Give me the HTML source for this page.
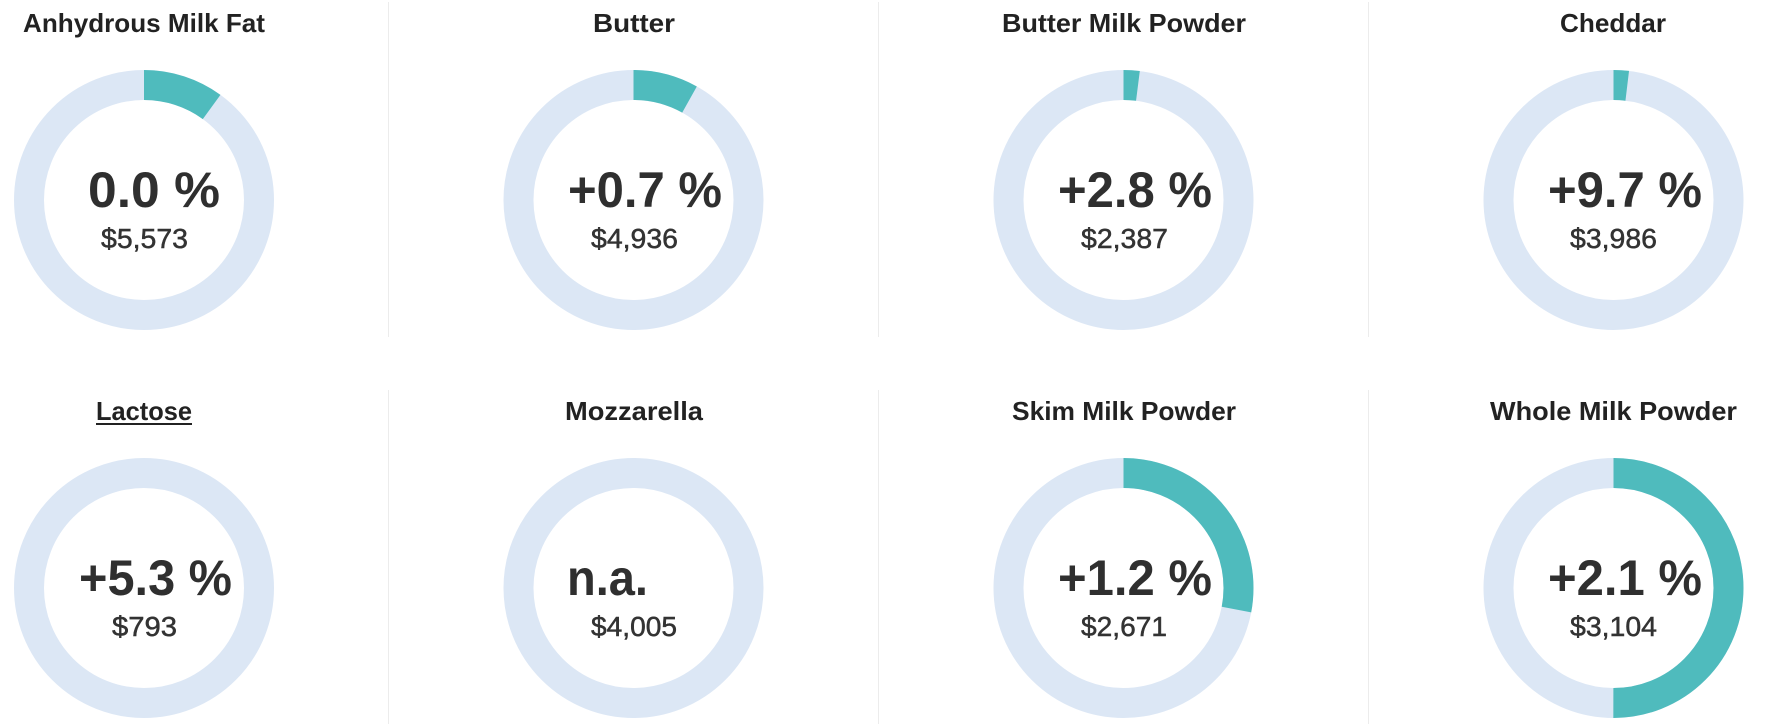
<!DOCTYPE html>
<html>
<head>
<meta charset="utf-8">
<style>
html,body{margin:0;padding:0;background:#fff;}
body{width:1784px;height:724px;overflow:hidden;}
svg{display:block;}
.t{font-family:"Liberation Sans",sans-serif;font-weight:bold;font-size:26px;fill:#222;}
.p{font-family:"Liberation Sans",sans-serif;font-weight:bold;font-size:50px;fill:#2f2f2f;}
.m{font-family:"Liberation Sans",sans-serif;font-weight:normal;font-size:28px;fill:#333;stroke:#333;stroke-width:0.5px;}
.bg{fill:none;stroke:#dce7f5;stroke-width:30;}
.fg{fill:none;stroke:#4fbbbd;stroke-width:30;}
.dv{stroke:#ececec;stroke-width:1;}
</style>
</head>
<body>
<svg width="1784" height="724" viewBox="0 0 1784 724" xmlns="http://www.w3.org/2000/svg">
  <!-- dividers -->
  <line class="dv" x1="388.5" y1="2" x2="388.5" y2="337"/>
  <line class="dv" x1="878.5" y1="2" x2="878.5" y2="337"/>
  <line class="dv" x1="1368.5" y1="2" x2="1368.5" y2="337"/>
  <line class="dv" x1="388.5" y1="390" x2="388.5" y2="724"/>
  <line class="dv" x1="878.5" y1="390" x2="878.5" y2="724"/>
  <line class="dv" x1="1368.5" y1="390" x2="1368.5" y2="724"/>

  <!-- Row 1 -->
  <!-- Anhydrous Milk Fat -->
  <text class="t" x="23" y="32" textLength="242" lengthAdjust="spacingAndGlyphs">Anhydrous Milk Fat</text>
  <circle class="bg" cx="144" cy="200" r="115"/>
  <circle class="fg" cx="144" cy="200" r="115" stroke-dasharray="72.26 722.57" transform="rotate(-90 144 200)"/>
  <text class="p" x="88" y="207" textLength="132" lengthAdjust="spacingAndGlyphs">0.0 %</text>
  <text class="m" x="101" y="248" textLength="87" lengthAdjust="spacingAndGlyphs">$5,573</text>

  <!-- Butter -->
  <text class="t" x="593" y="32" textLength="82" lengthAdjust="spacingAndGlyphs">Butter</text>
  <circle class="bg" cx="633.5" cy="200" r="115"/>
  <circle class="fg" cx="633.5" cy="200" r="115" stroke-dasharray="58.5 722.57" transform="rotate(-90 633.5 200)"/>
  <text class="p" x="568" y="207" textLength="154" lengthAdjust="spacingAndGlyphs">+0.7 %</text>
  <text class="m" x="591" y="248" textLength="87" lengthAdjust="spacingAndGlyphs">$4,936</text>

  <!-- Butter Milk Powder -->
  <text class="t" x="1002" y="32" textLength="244" lengthAdjust="spacingAndGlyphs">Butter Milk Powder</text>
  <circle class="bg" cx="1123.5" cy="200" r="115"/>
  <circle class="fg" cx="1123.5" cy="200" r="115" stroke-dasharray="14.5 722.57" transform="rotate(-90 1123.5 200)"/>
  <text class="p" x="1058" y="207" textLength="154" lengthAdjust="spacingAndGlyphs">+2.8 %</text>
  <text class="m" x="1081" y="248" textLength="87" lengthAdjust="spacingAndGlyphs">$2,387</text>

  <!-- Cheddar -->
  <text class="t" x="1560" y="32" textLength="106" lengthAdjust="spacingAndGlyphs">Cheddar</text>
  <circle class="bg" cx="1613.5" cy="200" r="115"/>
  <circle class="fg" cx="1613.5" cy="200" r="115" stroke-dasharray="13.8 722.57" transform="rotate(-90 1613.5 200)"/>
  <text class="p" x="1548" y="207" textLength="154" lengthAdjust="spacingAndGlyphs">+9.7 %</text>
  <text class="m" x="1570" y="248" textLength="87" lengthAdjust="spacingAndGlyphs">$3,986</text>

  <!-- Row 2 -->
  <!-- Lactose -->
  <text class="t" x="96" y="420" textLength="96" lengthAdjust="spacingAndGlyphs">Lactose</text>
  <rect x="96" y="423" width="96" height="2" fill="#222"/>
  <circle class="bg" cx="144" cy="588" r="115"/>
  <text class="p" x="79" y="595" textLength="153" lengthAdjust="spacingAndGlyphs">+5.3 %</text>
  <text class="m" x="112" y="636" textLength="65" lengthAdjust="spacingAndGlyphs">$793</text>

  <!-- Mozzarella -->
  <text class="t" x="565" y="420" textLength="138" lengthAdjust="spacingAndGlyphs">Mozzarella</text>
  <circle class="bg" cx="633.5" cy="588" r="115"/>
  <text class="p" x="567" y="595" textLength="81" lengthAdjust="spacingAndGlyphs">n.a.</text>
  <text class="m" x="591" y="636" textLength="86" lengthAdjust="spacingAndGlyphs">$4,005</text>

  <!-- Skim Milk Powder -->
  <text class="t" x="1012" y="420" textLength="224" lengthAdjust="spacingAndGlyphs">Skim Milk Powder</text>
  <circle class="bg" cx="1123.5" cy="588" r="115"/>
  <circle class="fg" cx="1123.5" cy="588" r="115" stroke-dasharray="202.3 722.57" transform="rotate(-90 1123.5 588)"/>
  <text class="p" x="1058" y="595" textLength="154" lengthAdjust="spacingAndGlyphs">+1.2 %</text>
  <text class="m" x="1081" y="636" textLength="86" lengthAdjust="spacingAndGlyphs">$2,671</text>

  <!-- Whole Milk Powder -->
  <text class="t" x="1490" y="420" textLength="247" lengthAdjust="spacingAndGlyphs">Whole Milk Powder</text>
  <circle class="bg" cx="1613.5" cy="588" r="115"/>
  <circle class="fg" cx="1613.5" cy="588" r="115" stroke-dasharray="361.28 722.57" transform="rotate(-90 1613.5 588)"/>
  <text class="p" x="1548" y="595" textLength="154" lengthAdjust="spacingAndGlyphs">+2.1 %</text>
  <text class="m" x="1570" y="636" textLength="87" lengthAdjust="spacingAndGlyphs">$3,104</text>
</svg>
</body>
</html>
